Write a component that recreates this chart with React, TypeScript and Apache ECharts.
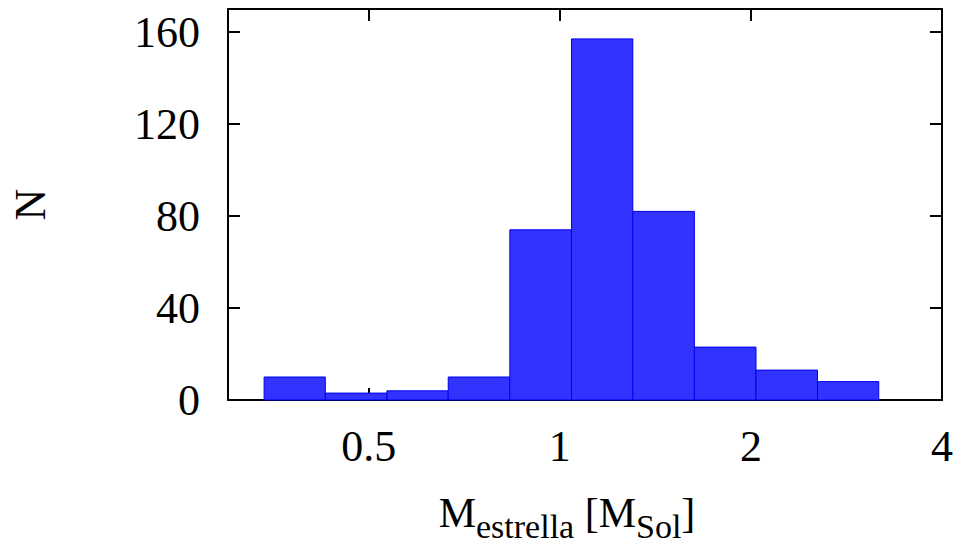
import React, { useEffect, useRef } from "react";
import * as echarts from "echarts";

// Histogram of stellar masses, logarithmic mass bins
const binEdges = [0.342, 0.427, 0.534, 0.667, 0.834, 1.043, 1.303, 1.629, 2.037, 2.546, 3.18];
const counts = [10, 3, 4, 10, 74, 157, 82, 23, 13, 8];
const xTickValues = [0.5, 1, 2, 4];
const yTickValues = [0, 40, 80, 120, 160];
const xRange = [0.3, 4];
const yRange = [0, 170];

const FONT = "Liberation Serif";
const log2 = (v: number) => Math.log2(v);

export default function App() {
  const ref = useRef<HTMLDivElement>(null);

  useEffect(() => {
    if (!ref.current) return;
    const chart = echarts.init(ref.current, undefined, { renderer: "svg" });

    const bars = counts.map((c, i) => [log2(binEdges[i]), log2(binEdges[i + 1]), c]);
    const xTicks = xTickValues.map(log2);

    const axisLine = { show: true, onZero: false, lineStyle: { color: "#000", width: 2 } };
    const tick = { show: true, inside: true, length: 12, lineStyle: { color: "#000", width: 2 } };

    const xBase = {
      type: "value" as const,
      min: log2(xRange[0]),
      max: log2(xRange[1]),
      axisLine,
      splitLine: { show: false },
    };
    const yBase = {
      type: "value" as const,
      min: yRange[0],
      max: yRange[1],
      axisLine,
      splitLine: { show: false },
    };

    chart.setOption({
      animation: false,
      grid: { left: 225, right: 19, top: 9, bottom: 150 },
      xAxis: [
        {
          ...xBase,
          position: "bottom",
          axisTick: { ...tick, customValues: xTicks },
          axisLabel: {
            customValues: xTicks,
            formatter: (v: number) => String(Math.round(Math.pow(2, v) * 1000) / 1000),
            fontFamily: FONT,
            fontSize: 44,
            color: "#000",
            margin: 24,
          },
          name: "{m|M}{s|estrella}{m| [M}{s|Sol}{m|]}",
          nameLocation: "middle",
          nameGap: 92,
          nameTextStyle: {
            fontFamily: FONT,
            color: "#000",
            padding: [0, 36, 0, 0],
            rich: {
              m: {
                fontFamily: FONT,
                fontSize: 42,
                color: "#000",
                verticalAlign: "middle",
                padding: [0, 0, 12, 0],
              },
              s: {
                fontFamily: FONT,
                fontSize: 34,
                color: "#000",
                verticalAlign: "middle",
                padding: [14, 0, 0, 0],
              },
            },
          },
        },
        {
          ...xBase,
          position: "top",
          axisTick: { ...tick, customValues: xTicks },
          axisLabel: { show: false },
        },
      ],
      yAxis: [
        {
          ...yBase,
          position: "left",
          axisTick: { ...tick, customValues: yTickValues },
          axisLabel: {
            customValues: yTickValues,
            fontFamily: FONT,
            fontSize: 44,
            color: "#000",
            margin: 28,
          },
          name: "N",
          nameLocation: "middle",
          nameRotate: 90,
          nameGap: 176,
          nameTextStyle: { fontFamily: FONT, fontSize: 44, color: "#000" },
        },
        {
          ...yBase,
          position: "right",
          axisTick: { ...tick, customValues: yTickValues },
          axisLabel: { show: false },
        },
      ],
      series: [
        {
          type: "custom",
          xAxisIndex: 0,
          yAxisIndex: 0,
          data: bars,
          encode: { x: [0, 1], y: 2 },
          renderItem: (_params: any, api: any) => {
            const p0 = api.coord([api.value(0), 0]);
            const p1 = api.coord([api.value(1), api.value(2)]);
            return {
              type: "rect",
              shape: { x: p0[0], y: p1[1], width: p1[0] - p0[0], height: p0[1] - p1[1] },
              style: { fill: "#3333ff", stroke: "#0000ee", lineWidth: 1 },
            };
          },
        },
      ],
    });

    return () => chart.dispose();
  }, []);

  return (
    <div
      ref={ref}
      style={{ position: "fixed", left: 0, top: 0, width: 961, height: 550, background: "#fff" }}
    />
  );
}
